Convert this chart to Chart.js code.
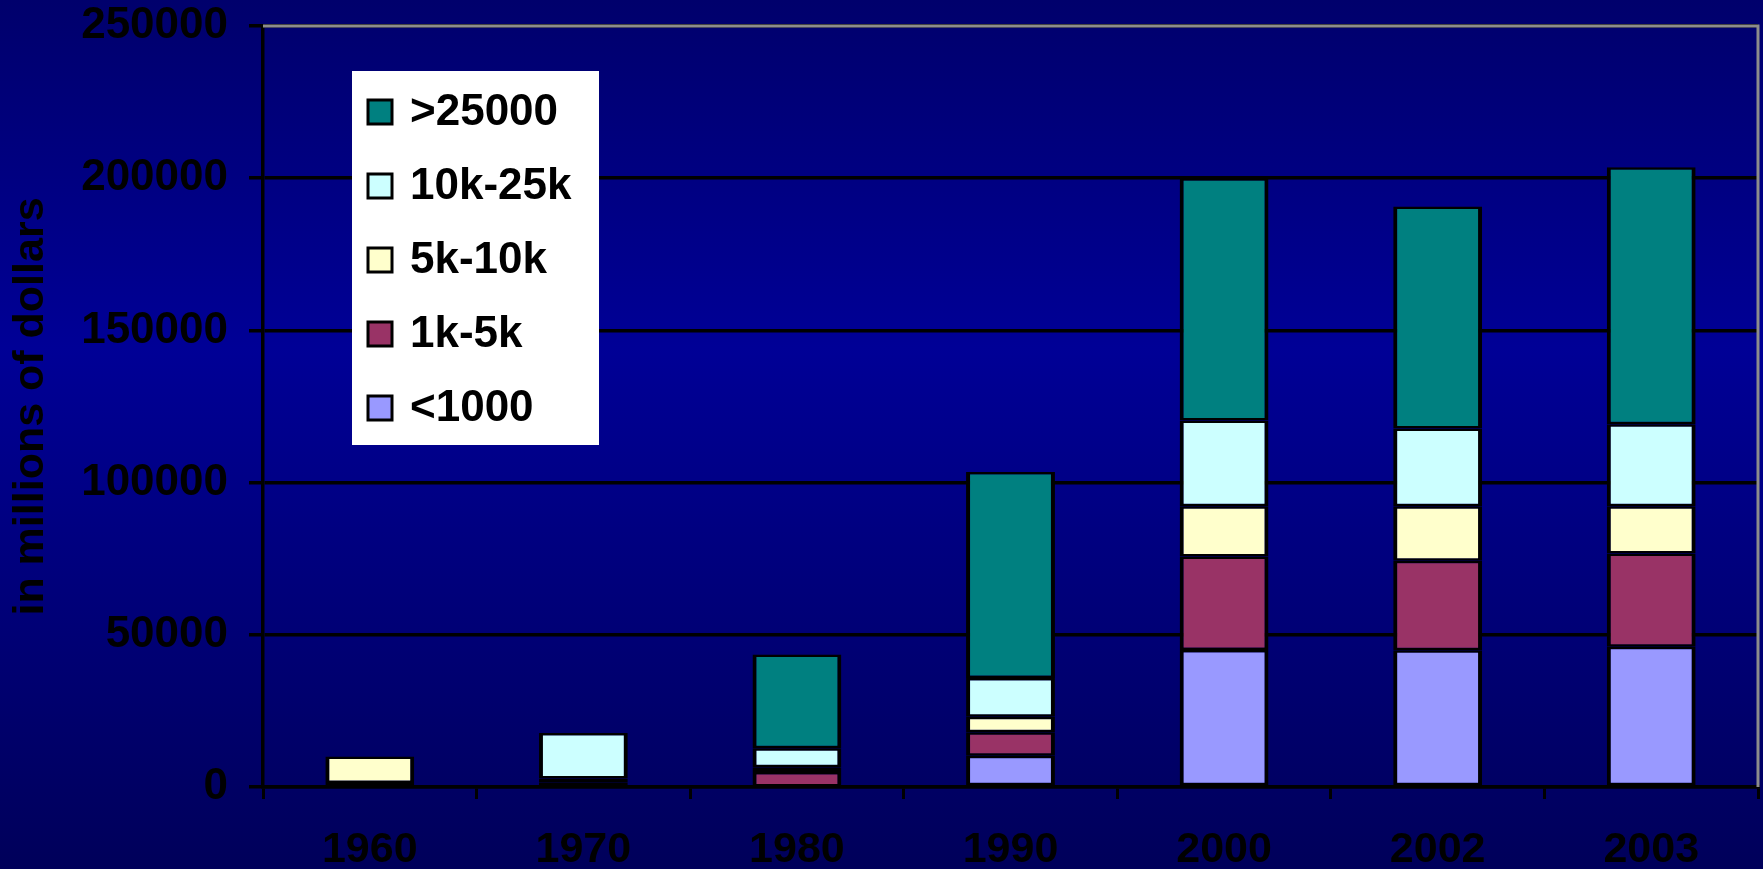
<!DOCTYPE html>
<html>
<head>
<meta charset="utf-8">
<script src="https://cdn.jsdelivr.net/npm/chart.js@4"></script>
<style>
html, body { margin: 0; padding: 0; background: #000080; }
#wrap { width: 1763px; height: 869px; }
</style>
</head>
<body>
<div id="wrap"><canvas id="chart_dons" width="1763" height="869"></canvas></div>
<script>
// values in millions of dollars
var years    = ['1960', '1970', '1980', '1990', '2000', '2002', '2003'];
var under1k  = [500,   600,   200,   10300, 45000, 44900, 46100];
var k1to5    = [800,   1000,  4700,  7700,  30700, 29400, 30600];
var k5to10   = [8700,  1200,  1600,  5100,  16500, 17900, 15500];
var k10to25  = [0,     14900, 6200,  12700, 28200, 25600, 27000];
var over25k  = [0,     0,     30800, 67700, 79600, 72900, 84400];
var yTicks   = [0, 50000, 100000, 150000, 200000, 250000];

var police = '"Liberation Sans", Arial, sans-serif';

// dark blue slide background
var fond = {
    id: 'fond',
    beforeDraw: function (chart) {
        var c = chart.ctx;
        var g = c.createLinearGradient(0, 0, 0, chart.height);
        g.addColorStop(0, '#00006c');
        g.addColorStop(0.4, '#000096');
        g.addColorStop(1, '#00005a');
        c.save();
        c.fillStyle = g;
        c.fillRect(0, 0, chart.width, chart.height);
        c.restore();
    }
};

// grey top + right edge of the plot area
var cadre = {
    id: 'cadre',
    beforeDatasetsDraw: function (chart) {
        var a = chart.chartArea, c = chart.ctx;
        c.save();
        c.strokeStyle = '#8c8c8c';
        c.lineWidth = 3;
        c.beginPath();
        c.moveTo(a.left, a.top);
        c.lineTo(a.right, a.top);
        c.lineTo(a.right, a.bottom);
        c.stroke();
        c.restore();
    }
};

// white legend box inside the plot
var legende = {
    id: 'legende',
    afterDraw: function (chart) {
        var c = chart.ctx;
        var ds = chart.data.datasets.slice().reverse();
        c.save();
        c.fillStyle = '#ffffff';
        c.fillRect(352, 71, 247, 374);
        c.font = 'bold 44px ' + police;
        c.textBaseline = 'middle';
        ds.forEach(function (d, i) {
            var y = 112 + i * 74;
            c.fillStyle = d.backgroundColor;
            c.fillRect(368, y - 12, 24, 24);
            c.strokeStyle = '#000';
            c.lineWidth = 3;
            c.strokeRect(368, y - 12, 24, 24);
            c.fillStyle = '#000';
            c.fillText(d.label, 410, y + 1);
        });
        c.restore();
    }
};

function serie(label, data, color) {
    return {
        label: label,
        data: data,
        backgroundColor: color,
        borderColor: '#000000',
        borderWidth: {left: 4, right: 4, top: 2.5, bottom: 2.5},
        borderSkipped: false
    };
}

var ctx = document.getElementById('chart_dons').getContext('2d');
var chart = new Chart(ctx, {
    type: 'bar',
    data: {
        labels: years,
        datasets: [
            serie('<1000', under1k, '#9999ff'),
            serie('1k-5k', k1to5, '#993366'),
            serie('5k-10k', k5to10, '#ffffcc'),
            serie('10k-25k', k10to25, '#ccffff'),
            serie('>25000', over25k, '#008080')
        ]
    },
    plugins: [fond, cadre, legende],
    options: {
        responsive: false,
        animation: false,
        categoryPercentage: 0.8,
        barPercentage: 0.52,
        layout: { padding: { top: 26, right: 5, left: 0, bottom: 0 } },
        plugins: {
            legend: { display: false },
            tooltip: { enabled: false }
        },
        scales: {
            x: {
                stacked: true,
                grid: { drawOnChartArea: false, drawTicks: true, tickLength: 12, color: '#000', lineWidth: 3 },
                border: { color: '#000', width: 3.5 },
                ticks: { color: '#000', padding: 25, font: { family: police, size: 43, weight: 'bold' } },
                afterFit: function (s) { s.height = 82; }
            },
            y: {
                stacked: true,
                min: 0,
                max: 250000,
                afterBuildTicks: function (s) {
                    s.ticks = yTicks.map(function (v) { return {value: v}; });
                },
                grid: { color: '#000', lineWidth: 3.5, tickLength: 14 },
                border: { color: '#000', width: 3.5 },
                ticks: {
                    color: '#000',
                    padding: 21,
                    font: { family: police, size: 44, weight: 'bold' },
                    callback: function (v) { return String(v); }
                },
                title: {
                    display: true,
                    text: 'in millions of dollars',
                    color: '#000',
                    padding: { top: 5, bottom: 0 },
                    font: { family: police, size: 43, weight: 'bold' }
                },
                afterFit: function (s) {
                    s.width = 263;
                    s.paddingTop = 0;
                    s.paddingBottom = 0;
                }
            }
        }
    }
});
</script>
</body>
</html>
